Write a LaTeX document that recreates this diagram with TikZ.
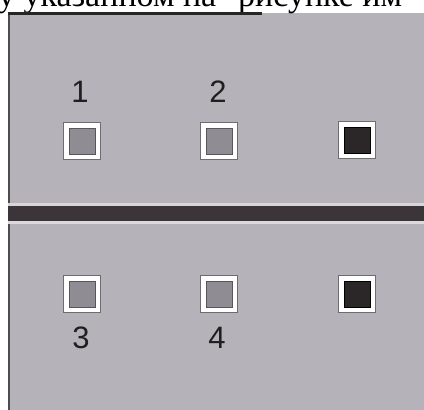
\documentclass[tikz,border=0pt]{standalone}
\usepackage{fontspec}
\setmainfont{Liberation Serif}
\newfontfamily\labfont{Liberation Sans}
\definecolor{panel}{RGB}{181,179,185}
\definecolor{litesq}{RGB}{143,141,147}
\definecolor{darksq}{RGB}{43,39,41}
\definecolor{barcol}{RGB}{59,53,57}
\definecolor{edge}{RGB}{110,108,112}
\tikzset{
  outersq/.style={draw=edge, line width=1pt, fill=white, minimum size=37pt, inner sep=0pt},
  innerlite/.style={draw=edge!80!black, line width=0.6pt, fill=litesq, minimum size=26pt, inner sep=0pt},
  innerdark/.style={draw=black, line width=0.6pt, fill=darksq, minimum size=26pt, inner sep=0pt},
  lab/.style={font=\labfont\fontsize{31}{31}\selectfont, text=black!88, inner sep=0pt},
  caption/.style={font=\fontsize{34}{34}\selectfont, text=black, inner sep=0pt, anchor=base west}
}
\begin{document}
\begin{tikzpicture}[x=1pt,y=-1pt]
\useasboundingbox (0,0) rectangle (424,410);
\begin{scope}
\clip (0,0) rectangle (424,410);
% panel
\fill[panel] (8,13) rectangle (424,410);
\fill[black!70] (8,13) rectangle (10,410);
% caption text cut off at the top
\node[caption] (cap1) at (-2,6) {у указанном на};
\node[caption] (cap2) at (238,6) {рисунке им};
\fill[black!85] (8,12) rectangle (262,15);
% middle bar
\fill[panel!55!white] (8,203) rectangle (424,206);
\fill[barcol] (8,206) rectangle (424,221);
\fill[panel!50!white] (8,221) rectangle (424,224);
\end{scope}
% squares
\node[outersq] (s1o) at (82,141) {};
\node[innerlite] (s1i) at (s1o.center) {};
\node[outersq] (s2o) at (219,141) {};
\node[innerlite] (s2i) at (s2o.center) {};
\node[outersq] (s5o) at (357,140) {};
\node[innerdark] (s5i) at (s5o.center) {};
\node[outersq] (s3o) at (82,294) {};
\node[innerlite] (s3i) at (s3o.center) {};
\node[outersq] (s4o) at (219,294) {};
\node[innerlite] (s4i) at (s4o.center) {};
\node[outersq] (s6o) at (357,294) {};
\node[innerdark] (s6i) at (s6o.center) {};
% labels
\node[lab] (l1) at (80,92) {1};
\node[lab] (l2) at (218,92) {2};
\node[lab] (l3) at (81,338) {3};
\node[lab] (l4) at (217,338) {4};
\end{tikzpicture}
\end{document}
